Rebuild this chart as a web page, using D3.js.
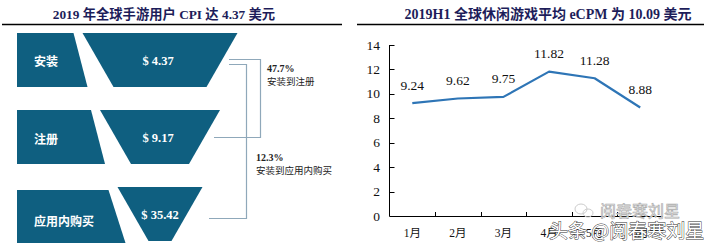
<!DOCTYPE html>
<html>
<head>
<meta charset="utf-8">
<script src="https://cdn.jsdelivr.net/npm/d3@7/dist/d3.min.js"></script>
<style>
  html, body { margin: 0; padding: 0; background: #fff; }
  svg { display: block; }
</style>
</head>
<body>
<svg id="chart" width="704" height="247"></svg>
<script>
// ---------- data ----------
const leftTitle = "2019 年全球手游用户 CPI 达 4.37 美元";
const stages = ["安装", "注册", "应用内购买"];
const stageCosts = [4.37, 9.17, 35.42];
const convRates = ["47.7%", "12.3%"];
const convLabels = ["安装到注册", "安装到应用内购买"];

const rightTitle = "2019H1 全球休闲游戏平均 eCPM 为 10.09 美元";
const months = ["1月", "2月", "3月", "4月", "5月", "6月"];
const ecpm = [9.24, 9.62, 9.75, 11.82, 11.28, 8.88];
const yTicks = [0, 2, 4, 6, 8, 10, 12, 14];

const watermarkMain = "头条 @阅春寒刘星";
const watermarkSub = "阅春寒刘星";

// ---------- styles ----------
const SERIF = "'Liberation Serif', 'Times New Roman', 'Noto Sans CJK SC', serif";
const CJK = "'Noto Sans CJK SC', 'Liberation Serif', sans-serif";
const TITLE_FONT = "'Liberation Serif', 'Noto Sans CJK SC', serif";
const FUNNEL = "#0f5f80";
const BRACKET = "#8fa8ba";
const LINE = "#2e75b6";

const svg = d3.select("#chart");

// ---------- titles ----------
svg.append("text").attr("x", 164).attr("y", 19)
  .attr("text-anchor", "middle").attr("font-family", TITLE_FONT)
  .attr("font-weight", "bold").attr("font-size", 13.3).attr("fill", "#1d1d5a")
  .text(leftTitle);
svg.append("line").attr("x1", 2).attr("x2", 342).attr("y1", 24.5).attr("y2", 24.5)
  .attr("stroke", "#000").attr("stroke-width", 1.3);

svg.append("text").attr("x", 548).attr("y", 19)
  .attr("text-anchor", "middle").attr("font-family", TITLE_FONT)
  .attr("font-weight", "bold").attr("font-size", 14).attr("fill", "#1d1d5a")
  .text(rightTitle);
svg.append("line").attr("x1", 357).attr("x2", 704).attr("y1", 24.5).attr("y2", 24.5)
  .attr("stroke", "#000").attr("stroke-width", 1.3);

// ---------- funnel (left) ----------
const rowY = d3.scaleBand().domain(stages).range([33, 241]).paddingInner(0.3).paddingOuter(0);
const idx = d3.scaleOrdinal().domain(stages).range([0, 1, 2]);
const topHalf = d3.scaleLinear().domain([0, 2]).range([77.5, 42.5]);
const centerX = 160, slant = 31, leftX = 17;

const g = svg.append("g");
stages.forEach((s, i) => {
  const y0 = rowY(s), y1 = y0 + rowY.bandwidth();
  const th = topHalf(idx(s)), bh = th - slant;
  const trap = [[centerX - th, y0], [centerX + th, y0], [centerX + bh, y1], [centerX - bh, y1]];
  const lTop = centerX - th - 9, lBot = lTop + 14;
  const dy0 = i === 2 ? 3 : 0, dy1 = i === 2 ? 2 : 0, dx = i === 2 ? 3 : 0;
  const left = [[leftX, y0 + dy0], [lTop, y0 + dy0], [lBot + dx, y1 + dy1], [leftX, y1 + dy1]];
  g.append("path").attr("d", d3.line()(left) + "Z").attr("fill", FUNNEL);
  g.append("path").attr("d", d3.line()(trap) + "Z").attr("fill", FUNNEL);
  g.append("text").attr("x", 34).attr("y", (y0 + y1) / 2 + (i === 2 ? 6 : 1))
    .attr("dominant-baseline", "central").attr("font-family", CJK)
    .attr("font-size", 12).attr("font-weight", "bold").attr("fill", "#fff").text(s);
  g.append("text").attr("x", centerX - 2 + (i === 2 ? 2 : 0)).attr("y", (y0 + y1) / 2 + 1)
    .attr("text-anchor", "middle").attr("dominant-baseline", "central")
    .attr("font-family", SERIF).attr("font-size", 12.5).attr("font-weight", "bold")
    .attr("fill", "#fff").text("$ " + stageCosts[i].toFixed(2));
});

// brackets
svg.append("path").attr("d", "M229,59.5H260.5V137.5H214").attr("fill", "none")
  .attr("stroke", BRACKET).attr("stroke-width", 1.2);
svg.append("path").attr("d", "M229,64.5H246.5V218.5H209").attr("fill", "none")
  .attr("stroke", BRACKET).attr("stroke-width", 1.2);

const conv = [{x: 267, y: 68}, {x: 256, y: 157}];
conv.forEach((c, i) => {
  svg.append("text").attr("x", c.x).attr("y", c.y).attr("dominant-baseline", "central")
    .attr("font-family", SERIF).attr("font-weight", "bold").attr("font-size", 10)
    .attr("fill", "#222").text(convRates[i]);
  svg.append("text").attr("x", c.x).attr("y", c.y + 13).attr("dominant-baseline", "central")
    .attr("font-family", CJK).attr("font-size", 9.5).attr("fill", "#222").text(convLabels[i]);
});

// ---------- line chart (right) ----------
const x = d3.scaleBand().domain(months).range([389.5, 663]);
const y = d3.scaleLinear().domain([0, 14]).range([216, 45]);

const ax = svg.append("g");
ax.append("line").attr("x1", 389.5).attr("x2", 389.5).attr("y1", y(14)).attr("y2", y(0))
  .attr("stroke", "#000");
yTicks.forEach(t => {
  ax.append("line").attr("x1", 389.5).attr("x2", 394.5)
    .attr("y1", Math.round(y(t)) + 0.5).attr("y2", Math.round(y(t)) + 0.5).attr("stroke", "#000");
  ax.append("text").attr("x", 380).attr("y", y(t)).attr("text-anchor", "end")
    .attr("dominant-baseline", "central").attr("font-family", SERIF)
    .attr("font-size", 13.5).attr("fill", "#111").text(t);
});
ax.append("line").attr("x1", 389.5).attr("x2", 663).attr("y1", 216.5).attr("y2", 216.5)
  .attr("stroke", "#000");
months.forEach((m, i) => {
  if (i > 0) {
    const tx = Math.round(x(m)) + 0.5;
    ax.append("line").attr("x1", tx).attr("x2", tx).attr("y1", 216.5).attr("y2", 212)
      .attr("stroke", "#000");
  }
  ax.append("text").attr("x", x(m) + x.bandwidth() / 2).attr("y", 233)
    .attr("text-anchor", "middle").attr("dominant-baseline", "central")
    .attr("font-family", SERIF).attr("font-size", 11.5).attr("fill", "#111").text(m);
});

const pts = months.map((m, i) => [x(m) + x.bandwidth() / 2, y(ecpm[i])]);
svg.append("path").attr("d", d3.line()(pts)).attr("fill", "none")
  .attr("stroke", LINE).attr("stroke-width", 2.2).attr("stroke-linejoin", "round");
pts.forEach((p, i) => {
  svg.append("text").attr("x", p[0]).attr("y", p[1] - 13.5).attr("text-anchor", "middle")
    .attr("font-family", SERIF).attr("font-size", 13.5).attr("fill", "#111")
    .text(ecpm[i].toFixed(2));
});

// ---------- watermark ----------
svg.append("text").attr("x", 600).attr("y", 217).attr("font-family", CJK)
  .attr("font-size", 16).attr("fill", "#fff").attr("stroke", "#aaa").attr("stroke-width", 0.7)
  .text(watermarkSub);
svg.append("ellipse").attr("cx", 581).attr("cy", 209).attr("rx", 6).attr("ry", 5)
  .attr("fill", "none").attr("stroke", "#ccc");
svg.append("ellipse").attr("cx", 588).attr("cy", 213).attr("rx", 5).attr("ry", 4)
  .attr("fill", "none").attr("stroke", "#ccc");
svg.append("text").attr("x", 549).attr("y", 238).attr("font-family", CJK)
  .attr("font-size", 19).attr("fill", "#fff").attr("stroke", "#333").attr("stroke-width", 0.9)
  .attr("paint-order", "stroke").text(watermarkMain);
</script>
</body>
</html>
